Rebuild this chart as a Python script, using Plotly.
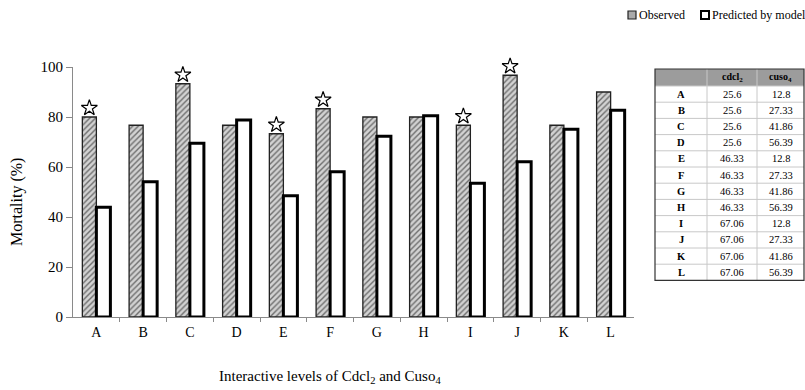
import plotly.graph_objects as go

# Treatment levels and mortality values (%)
levels = ["A", "B", "C", "D", "E", "F", "G", "H", "I", "J", "K", "L"]
observed = [80, 76.7, 93.3, 76.7, 73.3, 83.3, 80, 80, 76.7, 96.7, 76.7, 90]
predicted = [43.9, 54.1, 69.5, 78.8, 48.5, 58.1, 72.3, 80.5, 53.5, 62.1, 75.1, 82.7]
# levels flagged with a star above the observed bar
starred = ["A", "C", "E", "F", "I", "J"]

# concentrations of each level
table_header = ["", "cdcl<sub>2</sub>", "cuso<sub>4</sub>"]
cdcl2 = ["25.6", "25.6", "25.6", "25.6", "46.33", "46.33", "46.33", "46.33",
         "67.06", "67.06", "67.06", "67.06"]
cuso4 = ["12.8", "27.33", "41.86", "56.39", "12.8", "27.33", "41.86", "56.39",
         "12.8", "27.33", "41.86", "56.39"]

W, H = 805, 390
SERIF = "Liberation Serif, Times New Roman, serif"


def px(x):
    return x / W


def py(y):
    return 1 - y / H


xpos = list(range(len(levels)))
bar_w = 0.3

fig = go.Figure()

fig.add_trace(go.Bar(
    x=xpos, y=observed, name="Observed", width=bar_w, offset=-bar_w,
    marker=dict(color="#c8c8c8",
                pattern=dict(shape="/", fgcolor="#6e6e6e", bgcolor="#d2d2d2",
                             size=4, solidity=0.35),
                line=dict(color="#222", width=1.3)),
    showlegend=False,
))
fig.add_trace(go.Bar(
    x=xpos, y=predicted, name="Predicted by model", width=bar_w, offset=0,
    marker=dict(color="white", line=dict(color="black", width=3)),
    showlegend=False,
))

# stars above flagged observed bars (on a hidden axis with the same scale
# but more headroom, so the tallest star is not cut off)
sx = [levels.index(s) - bar_w / 2 for s in starred]
sy = [observed[levels.index(s)] + 3.6 for s in starred]
fig.add_trace(go.Scatter(
    x=sx, y=sy, mode="markers", showlegend=False, hoverinfo="skip",
    xaxis="x", yaxis="y2",
    marker=dict(symbol="star-open", size=12, color="black", line=dict(width=1.2)),
))

# ---- table of concentrations (drawn with shapes and annotations) ----
t_left, t_right, t_top = 655, 804, 69
col_edges = [655, 707, 757, 804]
head_h, row_h = 17, 16.2
n_rows = len(levels)
t_bottom = t_top + head_h + n_rows * row_h

fig.add_shape(type="rect", xref="paper", yref="paper",
              x0=px(t_left), x1=px(t_right), y0=py(t_top + head_h), y1=py(t_top),
              fillcolor="#9c9c9c", line=dict(width=0), layer="below")
for r in range(n_rows):
    yy = t_top + head_h + r * row_h
    fig.add_shape(type="line", xref="paper", yref="paper",
                  x0=px(t_left), x1=px(t_right), y0=py(yy), y1=py(yy),
                  line=dict(color="#c8c8c8", width=1))
for xe in col_edges[1:-1]:
    fig.add_shape(type="line", xref="paper", yref="paper",
                  x0=px(xe), x1=px(xe), y0=py(t_bottom), y1=py(t_top),
                  line=dict(color="#c8c8c8", width=1))
fig.add_shape(type="rect", xref="paper", yref="paper",
              x0=px(t_left), x1=px(t_right), y0=py(t_bottom), y1=py(t_top),
              line=dict(color="#333", width=1.2))

col_centers = [(col_edges[i] + col_edges[i + 1]) / 2 for i in range(3)]


def cell_text(x, y, txt, size):
    fig.add_annotation(x=px(x), y=py(y), xref="paper", yref="paper",
                       showarrow=False, text=txt, xanchor="center",
                       yanchor="middle",
                       font=dict(family=SERIF, size=size, color="black"))


for c, txt in enumerate(table_header):
    if txt:
        cell_text(col_centers[c], t_top + head_h / 2 + 0.5, "<b>%s</b>" % txt, 10)
for r in range(n_rows):
    yc = t_top + head_h + (r + 0.5) * row_h
    row_vals = ["<b>%s</b>" % levels[r], cdcl2[r], cuso4[r]]
    for c, txt in enumerate(row_vals):
        cell_text(col_centers[c], yc, txt, 10.5)

# ---- legend ----
fig.add_shape(type="rect", xref="paper", yref="paper",
              x0=px(628), x1=px(636), y0=py(19), y1=py(11),
              line=dict(color="#222", width=1.2), fillcolor="#aaaaaa")
fig.add_annotation(x=px(637), y=py(15), xref="paper", yref="paper",
                   text="Observed", showarrow=False, xanchor="left",
                   yanchor="middle", font=dict(family=SERIF, size=12, color="black"))
fig.add_shape(type="rect", xref="paper", yref="paper",
              x0=px(701), x1=px(709), y0=py(19), y1=py(11),
              line=dict(color="black", width=2), fillcolor="white")
fig.add_annotation(x=px(710), y=py(15), xref="paper", yref="paper",
                   text="Predicted by model", showarrow=False, xanchor="left",
                   yanchor="middle", font=dict(family=SERIF, size=12, color="black"))

# ---- axis titles ----
fig.add_annotation(
    x=px(17), y=py(202), xref="paper", yref="paper", textangle=-90,
    text="Mortality (%)", showarrow=False, xanchor="center", yanchor="middle",
    font=dict(family=SERIF, size=16, color="black"),
)
fig.add_annotation(
    x=px(330), y=py(377), xref="paper", yref="paper", xanchor="center",
    yanchor="middle",
    text="Interactive levels of Cdcl<sub>2</sub> and Cuso<sub>4</sub>",
    showarrow=False, font=dict(family=SERIF, size=15, color="black"),
)

fig.update_layout(
    template="none",
    width=W, height=H,
    margin=dict(l=0, r=0, t=0, b=0, autoexpand=False),
    paper_bgcolor="white", plot_bgcolor="rgba(0,0,0,0)",
    barmode="overlay", showlegend=False,
    xaxis=dict(
        domain=[px(73), px(634)], range=[-0.5, len(levels) - 0.5],
        tickvals=xpos, ticktext=levels, ticks="", showgrid=False,
        showline=True, linecolor="#8a8a8a", linewidth=1, zeroline=False,
        automargin=False,
        tickfont=dict(family=SERIF, size=14, color="black"),
        minor=dict(tickvals=[i + 0.5 for i in xpos[:-1]], ticks="outside",
                   ticklen=4, tickcolor="#8a8a8a", showgrid=False),
        ticklabelstandoff=2,
    ),
    yaxis=dict(
        domain=[py(317), py(67)], range=[0, 100],
        tickvals=[0, 20, 40, 60, 80, 100], ticks="outside", ticklen=6,
        tickcolor="#8a8a8a", showgrid=False, showline=True,
        linecolor="#8a8a8a", linewidth=1, zeroline=False, automargin=False,
        tickfont=dict(family=SERIF, size=15, color="black"),
    ),
    # same 2.5 px/unit scale as yaxis, extended 20 units higher
    yaxis2=dict(
        domain=[py(317), py(17)], range=[0, 120], visible=False,
        showgrid=False, zeroline=False, anchor="x",
    ),
)

fig.write_html("out.html")
